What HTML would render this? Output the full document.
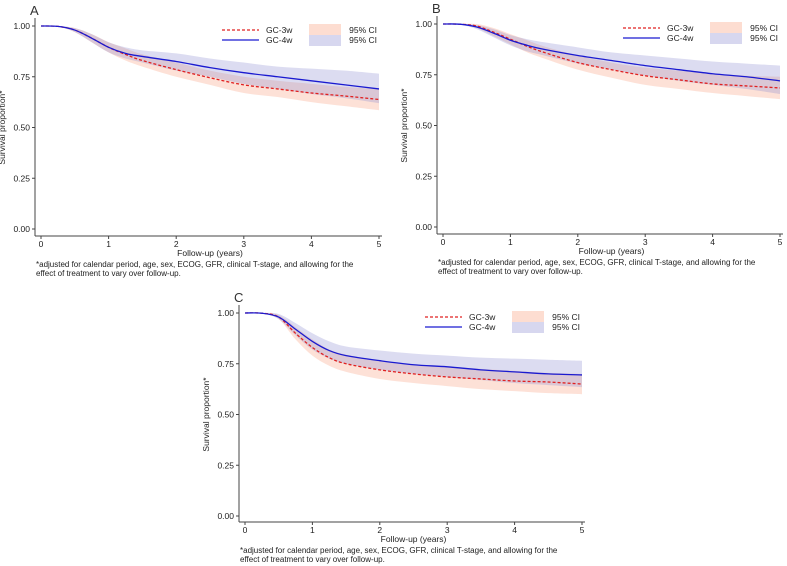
<!DOCTYPE html>
<html><head><meta charset="utf-8"><style>
body{margin:0;background:#fff;}
svg{display:block;font-family:"Liberation Sans",Arial,sans-serif;}
</style></head><body>
<svg id="chart" width="787" height="566" viewBox="0 0 787 566"></svg>
<script>
const times=[0,0.25,0.5,0.75,1,1.25,1.5,2,2.5,3,3.5,4,4.5,5];
const yTicks=[0,0.25,0.5,0.75,1];
const yTickLabels=["0.00","0.25","0.50","0.75","1.00"];
const xTicks=[0,1,2,3,4,5];
const seriesNames=["GC-3w","GC-4w"];
// Panel A
const a3=[1,0.998,0.98,0.94,0.895,0.86,0.83,0.785,0.745,0.71,0.69,0.67,0.655,0.638];
const a3lo=[1,0.996,0.97,0.92,0.87,0.83,0.80,0.75,0.71,0.67,0.65,0.625,0.605,0.585];
const a3hi=[1,1,0.99,0.96,0.92,0.89,0.86,0.82,0.78,0.75,0.73,0.715,0.70,0.69];
const a4=[1,0.998,0.98,0.94,0.895,0.865,0.85,0.825,0.795,0.77,0.75,0.73,0.71,0.69];
const a4lo=[1,0.996,0.97,0.92,0.87,0.84,0.82,0.78,0.75,0.715,0.69,0.665,0.645,0.62];
const a4hi=[1,1,0.99,0.96,0.92,0.895,0.88,0.865,0.84,0.82,0.80,0.79,0.78,0.765];
// Panel B
const b3=[1,0.999,0.99,0.96,0.925,0.89,0.86,0.81,0.775,0.745,0.725,0.705,0.695,0.685];
const b3lo=[1,0.997,0.98,0.94,0.9,0.86,0.83,0.775,0.735,0.70,0.68,0.66,0.645,0.63];
const b3hi=[1,1,1,0.98,0.95,0.92,0.89,0.845,0.81,0.785,0.77,0.755,0.745,0.74];
const b4=[1,0.999,0.985,0.955,0.92,0.895,0.875,0.845,0.82,0.795,0.775,0.755,0.74,0.72];
const b4lo=[1,0.997,0.975,0.935,0.895,0.865,0.845,0.805,0.775,0.745,0.72,0.70,0.68,0.655];
const b4hi=[1,1,0.995,0.975,0.945,0.925,0.91,0.885,0.86,0.845,0.83,0.815,0.805,0.795];
// Panel C
const c3=[1,0.999,0.98,0.90,0.83,0.78,0.75,0.72,0.70,0.685,0.675,0.665,0.66,0.65];
const c3lo=[1,0.997,0.97,0.87,0.79,0.74,0.71,0.675,0.655,0.64,0.625,0.615,0.605,0.60];
const c3hi=[1,1,0.99,0.93,0.87,0.82,0.795,0.765,0.745,0.735,0.725,0.715,0.705,0.70];
const c4=[1,0.999,0.98,0.92,0.86,0.815,0.79,0.765,0.745,0.735,0.72,0.71,0.70,0.695];
const c4lo=[1,0.997,0.97,0.89,0.82,0.775,0.75,0.72,0.70,0.685,0.67,0.655,0.645,0.635];
const c4hi=[1,1,0.995,0.95,0.90,0.86,0.835,0.815,0.80,0.79,0.78,0.775,0.77,0.765];

const NS="http://www.w3.org/2000/svg";
const svg=document.getElementById('chart');
function mk(tag,attrs,parent,text){const e=document.createElementNS(NS,tag);for(const k in attrs)e.setAttribute(k,attrs[k]);if(text!==undefined)e.textContent=text;parent.appendChild(e);return e;}
function smooth(pts,start){
  let d=(start?'M':'L')+pts[0][0]+','+pts[0][1];
  for(let i=0;i<pts.length-1;i++){
    const p0=pts[Math.max(0,i-1)],p1=pts[i],p2=pts[i+1],p3=pts[Math.min(pts.length-1,i+2)];
    const c1=[p1[0]+(p2[0]-p0[0])/6,p1[1]+(p2[1]-p0[1])/6];
    const c2=[p2[0]-(p3[0]-p1[0])/6,p2[1]-(p3[1]-p1[1])/6];
    d+='C'+c1.join(',')+' '+c2.join(',')+' '+p2.join(',');
  }
  return d;
}

function panel(id,P,s3,s3lo,s3hi,s4,s4lo,s4hi){
  const g=mk('g',{},svg);
  
  
  const X=t=>P.x0+(P.x5-P.x0)*t/5;
  const Y=v=>P.y0+(P.y1-P.y0)*v;
  const lbl=mk('text',{x:P.ax-5,y:P.y1-11,'font-size':13,fill:'#333'},g,id.toUpperCase());
  
  
  function band(lo,hi,fill,name){
    const up=times.map((t,i)=>[X(t),Y(hi[i])]);
    const dn=times.map((t,i)=>[X(t),Y(lo[i])]).reverse();
    const p=mk('path',{d:smooth(up,true)+smooth(dn,false)+'Z',fill:fill,stroke:'none'},g);
    
    
  }
  band(s3lo,s3hi,'rgba(250,170,140,0.35)','ci-band-gc3w');
  band(s4lo,s4hi,'rgba(140,140,210,0.3)','ci-band-gc4w');
  function line(v,stroke,dash,name){
    const p=mk('path',{d:smooth(times.map((t,i)=>[X(t),Y(v[i])]),true),fill:'none',stroke:stroke,'stroke-width':1.3,'stroke-dasharray':dash,'stroke-linejoin':'round'},g);
    
    
  }
  line(s3,'#e02020','3,2','line-gc3w');
  line(s4,'#1a1ad0','none','line-gc4w');
  const ya=mk('line',{x1:P.ax,y1:P.y1-8,x2:P.ax,y2:P.ab,stroke:'#444','stroke-width':1},g);
  
  const xa=mk('line',{x1:P.ax,y1:P.ab,x2:P.x5+3,y2:P.ab,stroke:'#444','stroke-width':1},g);
  
  yTicks.forEach((v,i)=>{
    mk('line',{x1:P.ax-3,y1:Y(v),x2:P.ax,y2:Y(v),stroke:'#444'},g);
    const t=mk('text',{x:P.ax-5,y:Y(v)+3,'font-size':8.5,'text-anchor':'end',fill:'#222'},g,yTickLabels[i]);
    
  });
  xTicks.forEach(v=>{
    mk('line',{x1:X(v),y1:P.ab,x2:X(v),y2:P.ab+3,stroke:'#444'},g);
    const t=mk('text',{x:X(v),y:P.ab+11,'font-size':8.5,'text-anchor':'middle',fill:'#222'},g,String(v));
    
  });
  const xt=mk('text',{x:(P.x0+P.x5)/2,y:P.ab+20,'font-size':8.5,'text-anchor':'middle',fill:'#222'},g,'Follow-up (years)');
  
  const yy=(P.y0+P.y1)/2;
  const yt=mk('text',{x:P.ax-30,y:yy,'font-size':8.5,'text-anchor':'middle',fill:'#222',transform:`rotate(-90 ${P.ax-30} ${yy})`},g,'Survival proportion*');
  
  const f1=mk('text',{x:P.ax+1,y:P.ab+31,'font-size':8,fill:'#222'},g,'*adjusted for calendar period, age, sex, ECOG, GFR, clinical T-stage, and allowing for the');
  
  const f2=mk('text',{x:P.ax+1,y:P.ab+40,'font-size':8,fill:'#222'},g,'effect of treatment to vary over follow-up.');
  
  const L=mk('g',{},g);
  
  const lx=P.x5-157, ly=P.y1;
  mk('line',{x1:lx,y1:ly+4,x2:lx+37,y2:ly+4,stroke:'#e02020','stroke-width':1.3,'stroke-dasharray':'3,2'},L);
  mk('text',{x:lx+44,y:ly+7,'font-size':8.5,fill:'#222'},L,seriesNames[0]);
  mk('line',{x1:lx,y1:ly+14,x2:lx+37,y2:ly+14,stroke:'#1a1ad0','stroke-width':1.3},L);
  mk('text',{x:lx+44,y:ly+17,'font-size':8.5,fill:'#222'},L,seriesNames[1]);
  mk('rect',{x:lx+87,y:ly-2,width:32,height:11,fill:'rgba(250,170,140,0.4)'},L);
  mk('rect',{x:lx+87,y:ly+9,width:32,height:11,fill:'rgba(140,140,210,0.35)'},L);
  mk('text',{x:P.x5-2,y:ly+7,'font-size':8.5,'text-anchor':'end',fill:'#222'},L,'95% CI');
  mk('text',{x:P.x5-2,y:ly+17,'font-size':8.5,'text-anchor':'end',fill:'#222'},L,'95% CI');
}
panel('a',{ax:35,x0:41,x5:379,y1:26,y0:229,ab:236},a3,a3lo,a3hi,a4,a4lo,a4hi);
panel('b',{ax:437,x0:443,x5:780,y1:24,y0:227,ab:234},b3,b3lo,b3hi,b4,b4lo,b4hi);
panel('c',{ax:239,x0:245,x5:582,y1:313,y0:516,ab:522},c3,c3lo,c3hi,c4,c4lo,c4hi);
</script>
</body></html>
